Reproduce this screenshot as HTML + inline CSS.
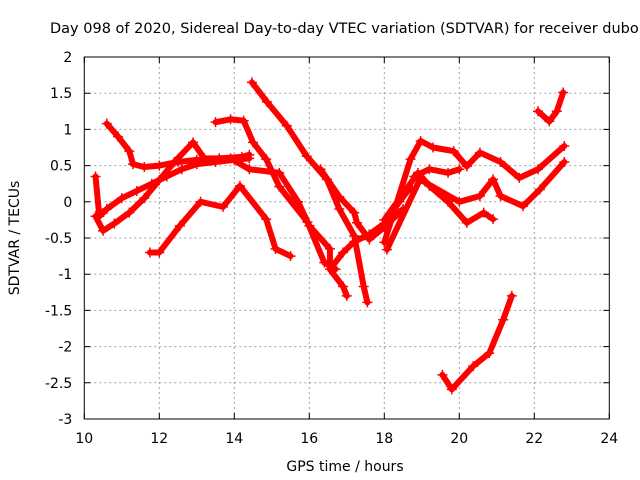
<!DOCTYPE html>
<html><head><meta charset="utf-8"><style>
body{margin:0;background:#fff}
svg{display:block;font-family:"DejaVu Sans","Liberation Sans",sans-serif}
</style></head><body>
<svg id="chart" width="640" height="480">
<rect width="640" height="480" fill="#fff"/>
<text x="50" y="33" font-size="14.5">Day 098 of 2020, Sidereal Day-to-day VTEC variation (SDTVAR) for receiver dubo</text>
<text x="345" y="471" font-size="14" text-anchor="middle">GPS time / hours</text>
<text transform="translate(19,238) rotate(-90)" font-size="14" text-anchor="middle">SDTVAR / TECUs</text>
<g id="grid"></g><g id="marks"></g><g id="axes"></g>
</svg>
<script>
const xTicks=[10,12,14,16,18,20,22,24];
const yTicks=[2,1.5,1,0.5,0,-0.5,-1,-1.5,-2,-2.5,-3];
const yTickLabels=["2","1.5","1","0.5","0","-0.5","-1","-1.5","-2","-2.5","-3"];
const track1=[[10.6,1.08],[10.9,0.9],[11.2,0.7],[11.3,0.52],[11.6,0.48],[12.0,0.5],[12.5,0.55],[13.0,0.58],[13.6,0.6],[14.2,0.62],[14.4,0.65]];
const track2=[[10.3,0.35],[10.4,-0.2],[10.6,-0.1],[11.0,0.05],[11.4,0.15],[11.8,0.25],[12.2,0.35],[12.6,0.45],[13.0,0.52],[13.5,0.55],[14.0,0.58],[14.4,0.6]];
const track3=[[10.3,-0.2],[10.5,-0.4],[10.8,-0.3],[11.2,-0.15],[11.6,0.05],[12.0,0.3],[12.4,0.55],[12.9,0.82],[13.2,0.6],[13.9,0.6],[14.4,0.45],[15.2,0.4],[15.7,0],[16.0,-0.33],[16.55,-0.65],[16.55,-0.93],[16.9,-1.17],[17.0,-1.3]];
const track4=[[11.75,-0.7],[12.0,-0.7],[12.55,-0.33],[13.1,0],[13.7,-0.07],[14.15,0.22],[14.85,-0.24],[15.1,-0.65],[15.5,-0.75]];
const track5=[[13.5,1.1],[13.9,1.14],[14.25,1.12],[14.5,0.82],[14.85,0.59],[15.2,0.21],[15.95,-0.28],[16.4,-0.84],[16.7,-0.93]];
const track6=[[14.47,1.65],[14.87,1.38],[15.4,1.05],[15.93,0.63],[16.47,0.31],[16.8,-0.1],[17.2,-0.47],[17.45,-1.17],[17.55,-1.39]];
const track7=[[16.3,0.45],[16.8,0.07],[17.2,-0.15],[17.27,-0.29],[17.6,-0.52],[18.0,-0.35],[18.5,-0.1]];
const track8=[[16.6,-0.9],[16.9,-0.7],[17.2,-0.55],[17.6,-0.45],[18.0,-0.3],[18.4,0.0],[18.7,0.2]];
const track9=[[18.0,-0.56],[18.7,0.59],[18.97,0.84],[19.3,0.75],[19.85,0.7],[20.2,0.49],[20.55,0.68],[21.1,0.55],[21.6,0.33],[22.1,0.45],[22.8,0.77]];
const track10=[[18.0,-0.25],[18.9,0.4],[19.2,0.22],[19.7,0],[20.2,-0.29],[20.65,-0.15],[20.9,-0.24]];
const track11=[[18.07,-0.66],[18.95,0.31],[20.0,0],[20.55,0.08],[20.9,0.31],[21.1,0.08],[21.7,-0.06],[22.15,0.17],[22.8,0.55]];
const track12=[[18.8,0.35],[19.2,0.45],[19.7,0.4],[20.0,0.45]];
const track13=[[22.1,1.25],[22.4,1.11],[22.6,1.25],[22.77,1.51]];
const track14=[[19.55,-2.39],[19.8,-2.59],[20.37,-2.27],[20.8,-2.09],[21.17,-1.63],[21.4,-1.3]];
const tracks=[track1,track2,track3,track4,track5,track6,track7,track8,track9,track10,track11,track12,track13,track14];

const L=84.3,R=609.3,T=57,B=419;
const xs=v=>L+(v-10)/14*(R-L);
const ys=v=>T+(2-v)/5*(B-T);
const NS="http://www.w3.org/2000/svg";
const mk=(t,a,p)=>{const e=document.createElementNS(NS,t);for(const k in a)e.setAttribute(k,a[k]);p.appendChild(e);return e;};
const grid=document.getElementById('grid'),marks=document.getElementById('marks'),axes=document.getElementById('axes');
xTicks.forEach((t,i)=>{
  const x=xs(t);
  if(i>0&&i<xTicks.length-1){const g=mk('line',{x1:x,x2:x,y1:T,y2:B,stroke:'#a0a0a0','stroke-dasharray':'2,3'},grid);
  
  }
  const tk=mk('path',{d:`M${x},${B}v-6M${x},${T}v6`,stroke:'#000'},axes);
  
  
  const lb=mk('text',{x:x,y:B+24,'font-size':14,'text-anchor':'middle'},axes);lb.textContent=t;
  
  
});
yTicks.forEach((t,i)=>{
  const y=ys(t);
  if(i>0&&i<yTicks.length-1){const g=mk('line',{x1:L,x2:R,y1:y,y2:y,stroke:'#a0a0a0','stroke-dasharray':'2,3'},grid);
  
  }
  const tk=mk('path',{d:`M${L},${y}h6M${R},${y}h-6`,stroke:'#000'},axes);
  
  
  const lb=mk('text',{x:L-12,y:y+5,'font-size':14,'text-anchor':'end'},axes);lb.textContent=yTickLabels[i];
  
  
});
const bx=mk('rect',{x:L,y:T,width:R-L,height:B-T,fill:'none',stroke:'#000'},axes);


tracks.forEach(tr=>{
  const pts=tr.map(p=>xs(p[0])+','+ys(p[1])).join(' ');
  const pl=mk('polyline',{points:pts,fill:'none',stroke:'#f00','stroke-width':6,'stroke-linejoin':'round','stroke-linecap':'round'},marks);
  
  
  tr.forEach(p=>{
    const x=xs(p[0]),y=ys(p[1]);
    const m=mk('path',{d:`M${x-5},${y}h10M${x},${y-5}v10`,stroke:'#f00','stroke-width':1.5},marks);
    
    
  });
});
</script>
</body></html>
